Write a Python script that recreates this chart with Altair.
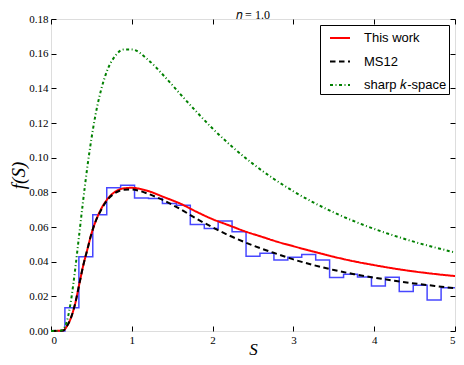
import altair as alt
import pandas as pd

# ---------------- data ----------------
bin_edges = [0.0, 0.172, 0.345, 0.517, 0.690, 0.862, 1.034, 1.207, 1.379, 1.552,
             1.724, 1.897, 2.069, 2.241, 2.414, 2.586, 2.759, 2.931, 3.103, 3.276,
             3.448, 3.621, 3.793, 3.966, 4.138, 4.310, 4.483, 4.655, 4.828, 5.0]
bin_heights = [0.0, 0.0134, 0.0428, 0.0670, 0.0827, 0.0841, 0.0768, 0.0765, 0.0736,
               0.0726, 0.0614, 0.0591, 0.0634, 0.0572, 0.0431, 0.0448, 0.0409, 0.0425,
               0.0442, 0.0409, 0.0309, 0.0327, 0.0312, 0.0259, 0.0310, 0.0228, 0.0264,
               0.0179, 0.0250]

s_this = [0.0, 0.15, 0.2, 0.25, 0.3, 0.35, 0.4, 0.45, 0.5, 0.55, 0.6, 0.7, 0.8, 0.9,
          1.0, 1.1, 1.2, 1.4, 1.6, 1.8, 2.0, 2.2, 2.4, 2.6, 2.8, 3.0, 3.25, 3.5, 3.75,
          4.0, 4.25, 4.5, 4.75, 5.0]
f_this = [0.0, 0.0003, 0.003, 0.008, 0.016, 0.027, 0.038, 0.047, 0.056, 0.063, 0.0685,
          0.0762, 0.0805, 0.0823, 0.0826, 0.0820, 0.0808, 0.0772, 0.0735, 0.0688, 0.0645,
          0.0610, 0.0575, 0.0545, 0.0515, 0.0489, 0.0458, 0.0428, 0.0402, 0.0380, 0.0360,
          0.0343, 0.0329, 0.0317]

s_ms12 = [0.0, 0.15, 0.2, 0.25, 0.3, 0.35, 0.4, 0.45, 0.5, 0.55, 0.6, 0.7, 0.8, 0.9,
          1.0, 1.1, 1.2, 1.4, 1.6, 1.8, 2.0, 2.2, 2.4, 2.6, 2.8, 3.0, 3.25, 3.5, 3.75,
          4.0, 4.25, 4.5, 4.75, 5.0]
f_ms12 = [0.0, 0.0003, 0.003, 0.008, 0.016, 0.027, 0.038, 0.047, 0.056, 0.063, 0.068,
          0.0758, 0.0798, 0.0815, 0.0817, 0.0808, 0.0792, 0.0752, 0.0703, 0.0648, 0.0598,
          0.0552, 0.0512, 0.0476, 0.0444, 0.0413, 0.0380, 0.0352, 0.0328, 0.0308, 0.0290,
          0.0274, 0.0260, 0.0247]

s_sharp = [0.0, 0.1, 0.15, 0.2, 0.25, 0.3, 0.35, 0.4, 0.45, 0.5, 0.55, 0.6, 0.7, 0.8,
           0.9, 1.0, 1.2, 1.4, 1.6, 1.8, 2.0, 2.25, 2.5, 2.75, 3.0, 3.5, 4.0, 4.5, 5.0]
f_sharp = [0.0, 0.0, 0.0009, 0.0062, 0.0183, 0.0359, 0.0560, 0.0761, 0.0947, 0.1108,
           0.1245, 0.1354, 0.1508, 0.1590, 0.1624, 0.1624, 0.1565, 0.1471, 0.1367,
           0.1265, 0.1168, 0.1060, 0.0964, 0.0880, 0.0806, 0.0684, 0.0589, 0.0514,
           0.0453]

series_names = ["This work", "MS12", "sharp \U0001D458-space"]
series_colors = ["#ff0000", "#000000", "#008000"]
series_dashes = [[1, 0], [5.5, 3.5], [3, 2.5, 1, 2.5]]

x_ticks = [0, 1, 2, 3, 4, 5]
y_ticks = [0.0, 0.02, 0.04, 0.06, 0.08, 0.10, 0.12, 0.14, 0.16, 0.18]

# ---------------- tables ----------------
hist_df = pd.DataFrame({"S": bin_edges, "f": bin_heights + [bin_heights[-1]]})
curves_df = pd.concat([
    pd.DataFrame({"S": s_this, "f": f_this, "series": series_names[0]}),
    pd.DataFrame({"S": s_ms12, "f": f_ms12, "series": series_names[1]}),
    pd.DataFrame({"S": s_sharp, "f": f_sharp, "series": series_names[2]}),
], ignore_index=True)

serif = "Liberation Serif"
xscale = alt.Scale(domain=[0, 5], nice=False, zero=False)
yscale = alt.Scale(domain=[0, 0.18], nice=False)

legend_cfg = dict(
    orient="top-right", title=None, offset=6, padding=2,
    strokeColor="black", fillColor="white", cornerRadius=0,
    labelFont="Liberation Sans", labelFontSize=13, labelColor="black",
    symbolType="stroke", symbolSize=400, symbolStrokeWidth=2,
    symbolOffset=7, rowPadding=5.5, labelOffset=13,
)

hist = alt.Chart(hist_df).mark_line(
    interpolate="step-after", color="#0000ff", opacity=0.72, strokeWidth=1.5
).encode(
    x=alt.X("S:Q", scale=xscale, axis=alt.Axis(
        orient="bottom", values=x_ticks, format="d", offset=-5, tickSize=5,
        domain=False, grid=False, labelPadding=3, tickColor="black",
        labelFont=serif, labelFontSize=11, labelColor="black",
        title="S", titleFont=serif, titleFontStyle="italic", titleFontWeight="normal",
        titleFontSize=17, titleColor="black", titlePadding=-4)),
    y=alt.Y("f:Q", scale=yscale, axis=alt.Axis(
        orient="left", values=y_ticks, format=".2f", offset=-5, tickSize=5,
        domain=False, grid=False, labelPadding=3, tickColor="black",
        labelFont=serif, labelFontSize=11, labelColor="black",
        title="f(S)", titleFont=serif, titleFontStyle="italic", titleFontWeight="normal",
        titleFontSize=19, titleColor="black", titlePadding=0)),
)

curves = alt.Chart(curves_df).mark_line(strokeWidth=2, interpolate="monotone").encode(
    x=alt.X("S:Q", scale=xscale, axis=alt.Axis(
        orient="top", values=x_ticks, offset=-5, tickSize=5, labels=False,
        domain=False, grid=False, title=None, tickColor="black")),
    y=alt.Y("f:Q", scale=yscale, axis=alt.Axis(
        orient="right", values=y_ticks, offset=-5, tickSize=5, labels=False,
        domain=False, grid=False, title=None, tickColor="black")),
    color=alt.Color("series:N", scale=alt.Scale(domain=series_names, range=series_colors),
                    legend=alt.Legend(**legend_cfg)),
    strokeDash=alt.StrokeDash("series:N", scale=alt.Scale(domain=series_names, range=series_dashes),
                              legend=alt.Legend(**legend_cfg)),
    order=alt.Order("S:Q"),
)

chart = alt.layer(hist, curves).resolve_axis(x="independent", y="independent").properties(
    width=404, height=312,
    autosize=alt.AutoSizeParams(type="none"),
    padding={"left": 43, "top": 11, "right": 1, "bottom": 26},
    title=alt.TitleParams("\U0001D45B = 1.0", font=serif, fontSize=12, fontWeight="normal",
                          color="black", anchor="middle", offset=4, dy=13),
).configure_view(stroke="black", strokeWidth=1).configure(background="white")

chart.save("out.html", embed_options={"renderer": "svg", "actions": False})
